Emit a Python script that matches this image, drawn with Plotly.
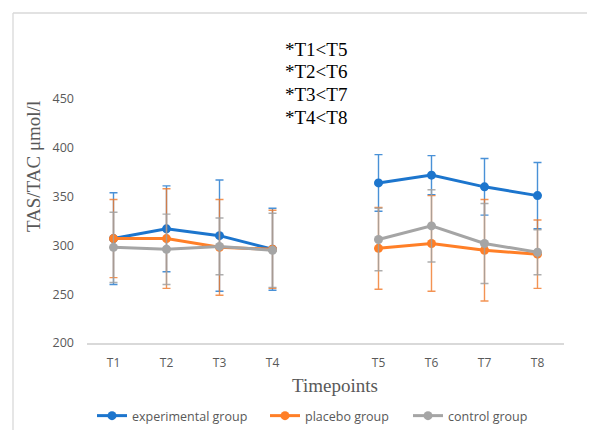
import plotly.graph_objects as go

timepoints = ["T1", "T2", "T3", "T4", "T5", "T6", "T7", "T8"]
experimental_mean = [307, 317, 310, 296, 364, 372, 360, 351]
experimental_sd = [47, 44, 57, 42, 29, 20, 29, 34]
placebo_mean = [307, 307, 298, 296, 297, 302, 295, 291]
placebo_sd = [40, 51, 49, 40, 42, 49, 52, 35]
control_mean = [298, 296, 299, 295, 306, 320, 302, 293]
control_sd = [36, 36, 29, 38, 32, 37, 41, 23]
y_ticks = [200, 250, 300, 350, 400, 450]
notes = ["*T1<T5", "*T2<T6", "*T3<T7", "*T4<T8"]

# blank category between T4 and T5
positions = [i + (1 if i >= 4 else 0) for i in range(len(timepoints))]

def with_gap(vals):
    return vals[:4] + [None] + vals[4:]

xs = positions[:4] + [4] + positions[4:]

series = [
    ("experimental group", experimental_mean, experimental_sd, "#1C75CD", "rgba(28,117,205,0.8)", "legend", 97),
    ("placebo group", placebo_mean, placebo_sd, "#FF7F27", "rgba(240,120,40,0.8)", "legend2", 270),
    ("control group", control_mean, control_sd, "#A5A5A5", "rgba(160,160,160,0.85)", "legend3", 413),
]

fig = go.Figure()
for name, m, sd, col, ecol, lg, _ in series:
    fig.add_trace(go.Scatter(
        x=xs, y=with_gap(m), name=name, mode="lines+markers",
        connectgaps=False, legend=lg,
        line=dict(color=col, width=3),
        marker=dict(color=col, size=9),
        error_y=dict(type="data", array=with_gap(sd), visible=True,
                     color=ecol, thickness=1.4, width=4),
    ))

font_sans = "Open Sans"
font_serif = "Liberation Serif"

# page body has an 8px margin, so the figure is 8px smaller and shifted
W, H = 587, 422
PL, PT, PW, PH = 79, 91, 477, 244

legend_cfg = {}
for _, _, _, _, _, lg, px in series:
    legend_cfg[lg] = dict(orientation="h", xref="container", x=(px - 8 - 5) / W, xanchor="left",
                          yref="container", y=(H - 408) / H, yanchor="middle",
                          font=dict(family=font_sans, size=12.5, color="#595959"),
                          itemwidth=30, bgcolor="rgba(0,0,0,0)")

fig.update_layout(
    width=W, height=H,
    margin=dict(l=PL, r=W - PL - PW, t=PT, b=H - PT - PH),
    paper_bgcolor="white", plot_bgcolor="white",
    showlegend=True,
    **legend_cfg,
    xaxis=dict(range=[-0.5, 8.5], tickvals=positions, ticktext=timepoints,
               showgrid=False, zeroline=False, showline=True, linecolor="#D9D9D9", linewidth=1.5,
               ticks="", ticklabelstandoff=8,
               tickfont=dict(family=font_sans, size=12, color="#595959")),
    yaxis=dict(range=[200, 450], tickvals=y_ticks, showgrid=False, zeroline=False,
               showline=False, ticks="", ticklabelstandoff=12,
               tickfont=dict(family=font_sans, size=12.5, color="#595959")),
)

def px_x(p):
    return (p - 87) / PW

def px_y(p):
    return (343 - p) / PH

# x axis title
fig.add_annotation(text="Timepoints", xref="paper", yref="paper",
                   x=px_x(335), y=px_y(385), xanchor="center", yanchor="middle", showarrow=False,
                   font=dict(family=font_serif, size=19, color="#595959"))
# y axis title
fig.add_annotation(text="TAS/TAC μmol/l", xref="paper", yref="paper",
                   x=px_x(33), y=px_y(167), xanchor="center", yanchor="middle",
                   showarrow=False, textangle=-90,
                   font=dict(family=font_serif, size=19, color="#595959"))
# notes
for i, t in enumerate(notes):
    fig.add_annotation(text=t, xref="paper", yref="paper",
                       x=px_x(316), y=px_y(49 + 22.7 * i), xanchor="center", yanchor="middle",
                       showarrow=False,
                       font=dict(family=font_serif, size=19, color="black"))

# chart area border (left and top)
bx = px_x(13)
by = px_y(13)
fig.add_shape(type="line", xref="paper", yref="paper", x0=bx, x1=1.2, y0=by, y1=by,
              line=dict(color="#D9D9D9", width=1.3))
fig.add_shape(type="line", xref="paper", yref="paper", x0=bx, x1=bx, y0=by, y1=-0.5,
              line=dict(color="#D9D9D9", width=1.3))

fig.write_html("out.html")
